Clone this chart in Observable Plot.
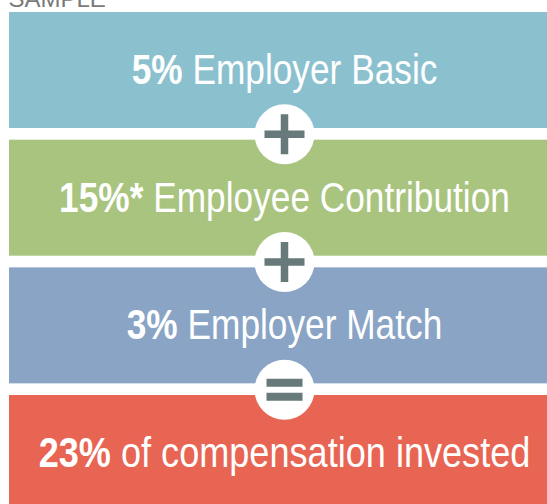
<!DOCTYPE html>
<html><head><meta charset="utf-8">
<script src="https://cdn.jsdelivr.net/npm/d3@7"></script>
<script src="https://cdn.jsdelivr.net/npm/@observablehq/plot@0.6"></script>
<style>body{margin:0;background:#fff;overflow:hidden}</style>
</head><body><div id="chart"></div>
<script>
// ---- data ----
const steps = ["basic", "employee", "match", "total"];
const percents = ["5%", "15%*", "3%", "23%"];
const descriptions = ["Employer Basic", "Employee Contribution", "Employer Match", "of compensation invested"];
const operators = ["+", "+", "="];
const watermark = ["SAMPLE"];

// ---- styles ----
const palette = ["#8bc1cf", "#a9c47f", "#8aa4c6", "#e86553"];
const opColor = "#67797a";
const FONT = "'Liberation Sans', Arial, sans-serif";
const CONDENSE = 0.84;

const rows = steps.map((s, i) => ({step: s, index: i, label: percents[i] + " " + descriptions[i]}));
const labels = rows.map(d => d.label);
const ops = operators.map((o, i) => ({op: o, index: i}));

const BAND = 116 / 127.67;          // share of each slot filled by a coloured band
const GAP = 1 - BAND;

const plusSymbol = {draw(ctx) { ctx.rect(-20, -3.75, 40, 7.5); ctx.rect(-3.75, -20, 7.5, 40); }};
const equalsSymbol = {draw(ctx) { ctx.rect(-18, -11, 36, 8); ctx.rect(-18, 3, 36, 8); }};

const chart = Plot.plot({
  width: 547,
  height: 504,
  margin: 0,
  x: {domain: [0, 1], range: [9, 559], axis: null},
  y: {domain: [0, 4], range: [12, 522.7], axis: null},
  color: {domain: steps, range: palette},
  style: {background: "#fff", fontFamily: FONT},
  marks: [
    Plot.rect(rows, {x1: 0, x2: 1, y1: d => d.index, y2: d => d.index + BAND, fill: "step"}),
    Plot.dot(ops, {x: 0.5, y: d => d.index + 1 - GAP / 2, r: 30, fill: "white"}),
    Plot.dot(ops.filter(d => d.op === "+"), {x: 0.5, y: d => d.index + 1 - GAP / 2, symbol: plusSymbol, fill: opColor}),
    Plot.dot(ops.filter(d => d.op === "="), {x: 0.5, y: d => d.index + 1 - GAP / 2, symbol: equalsSymbol, fill: opColor}),
    Plot.text(rows, {x: 0.5, y: d => d.index + BAND / 2, text: "label", fill: "white",
      fontSize: d => d.step === "total" ? 43 : 42, dy: 0, fontFamily: FONT}),
    Plot.text(watermark, {frameAnchor: "top-left", text: d => d, dx: 8, dy: -1.5, fill: "#7a7a7a",
      fontSize: 24, fontFamily: FONT, lineAnchor: "middle", textAnchor: "start"})
  ]
});

// bold percentages and a condensed face (no condensed font is installed)
d3.select(chart).selectAll("text").filter(function() { return labels.includes(this.textContent); }).each(function() {
  const t = this.textContent;
  const k = t.indexOf(" ");
  const sel = d3.select(this);
  sel.text(null);
  sel.append("tspan").attr("font-weight", "bold").text(t.slice(0, k));
  sel.append("tspan").text(t.slice(k));
  const x = +sel.attr("x") || 0;
  const prev = sel.attr("transform") || "";
  sel.attr("transform", `${prev} translate(${x},0) scale(${CONDENSE},1) translate(${-x},0)`);
});

document.getElementById("chart").appendChild(chart);
</script>
</body></html>
